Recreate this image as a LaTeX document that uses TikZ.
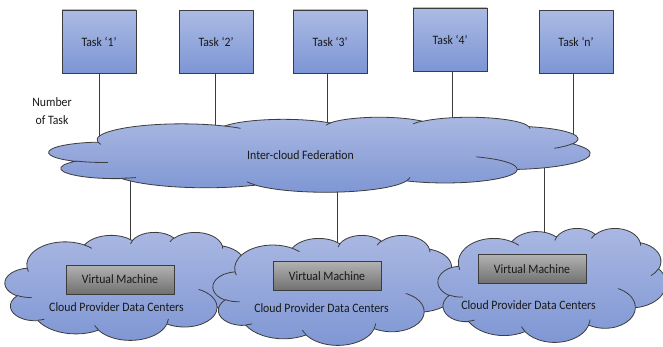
\documentclass[tikz,border=0pt]{standalone}
\usepackage{fontspec}
\setmainfont{Carlito}[FakeStretch=0.92]
\definecolor{boxTop}{RGB}{172,187,228}
\definecolor{boxBot}{RGB}{124,149,212}
\definecolor{cloudTop}{RGB}{170,184,226}
\definecolor{cloudBot}{RGB}{126,150,212}
\definecolor{vmTop}{RGB}{178,178,178}
\definecolor{vmBot}{RGB}{112,112,112}
\definecolor{edge}{RGB}{60,60,60}
\definecolor{txt}{RGB}{25,25,25}
% visual (DrawingML) angle -> parametric arc
\newcommand\prepArc[5]{%
  \pgfmathsetmacro\pA{atan2((#2)*sin(#4),(#3)*cos(#4))}%
  \pgfmathsetmacro\pB{atan2((#2)*sin((#4)+(#5)),(#3)*cos((#4)+(#5)))}%
  \pgfmathsetmacro\pD{mod(\pB-(\pA)+720,360)}%
  \expandafter\xdef\csname #1\endcsname{arc[start angle=\pA,delta angle=\pD,x radius=#2pt,y radius=#3pt]}}
\newcommand\ocpath{(39pt,143.7pt) \ocA \ocB \ocC \ocD \ocE \ocF \ocG \ocH \ocI \ocJ \ocK -- cycle}
\newcommand\ocinner{(46.93pt,261.77pt) \ociA (69.28pt,348.99pt) \ociB (164.78pt,390.90pt) \ociC
  (288.27pt,347.51pt) \ociD (341.29pt,229.54pt) \ociE (417.98pt,153.54pt) \ociF
  (383.24pt,54.26pt) \ociG (290.78pt,39.52pt) \ociH (221.41pt,47.20pt) \ociI
  (140.00pt,51.92pt) \ociJ (41.27pt,157.89pt) \ociK}
\newcommand\officecloud[4]{%
  \begin{scope}[shift={(#1,#2)},xscale=#3/432,yscale=-#4/432]
    \path[cloudbody] \ocpath;
    \path[cloudinner] \ocinner;
  \end{scope}}
\begin{document}
\begin{tikzpicture}[x=1pt,y=-1pt,
  cloudbody/.style={draw=edge,line width=0.8pt,top color=cloudTop,bottom color=cloudBot},
  cloudinner/.style={draw=edge,line width=0.8pt},
  taskbox/.style={draw=edge,line width=0.8pt,top color=boxTop,bottom color=boxBot,
    minimum width=74pt,minimum height=63pt,inner sep=0pt,text=txt,
    font=\fontsize{12.8}{15}\selectfont},
  vmbox/.style={draw=edge,line width=0.8pt,top color=vmTop,bottom color=vmBot,
    minimum width=108pt,minimum height=29pt,inner sep=0pt,text=txt,
    font=\fontsize{12.8}{15}\selectfont},
  lbl/.style={text=txt,inner sep=0pt,font=\fontsize{12.8}{15}\selectfont},
  conn/.style={draw=edge,line width=0.9pt}]
\prepArc{ocA}{67.53}{91.90}{-190.48748}{123.78053}
\prepArc{ocB}{53.33}{72.67}{-144.10238}{89.94523}
\prepArc{ocC}{43.65}{59.45}{-145.80792}{99.72302}
\prepArc{ocD}{48.57}{65.95}{-130.98607}{117.24173}
\prepArc{ocE}{53.33}{72.73}{-78.70888}{109.02692}
\prepArc{ocF}{67.75}{92.20}{-46.26725}{130.269}
\prepArc{ocG}{57.85}{78.67}{0.62502}{114.03333}
\prepArc{ocH}{67.52}{92.15}{22.4516}{115.17255}
\prepArc{ocI}{77.20}{105.43}{66.24263}{75.71102}
\prepArc{ocJ}{43.60}{59.18}{-274.94208}{146.73557}
\prepArc{ocK}{43.45}{59.45}{-246.8285}{152.51885}
\prepArc{ociA}{43.45}{59.45}{86.742}{26.4295}
\prepArc{ociB}{43.60}{59.18}{73.61047}{11.44747}
\prepArc{ociC}{67.52}{92.15}{137.62415}{14.0811}
\prepArc{ociD}{67.52}{92.15}{6.45327}{15.99835}
\prepArc{ociE}{57.85}{78.67}{-70.29235}{70.91737}
\prepArc{ociF}{53.33}{72.73}{30.31803}{27.7515}
\prepArc{ociG}{48.57}{65.95}{-13.74433}{14.8589}
\prepArc{ociH}{48.57}{65.95}{-149.18145}{18.19537}
\prepArc{ociI}{43.65}{59.45}{-163.49427}{17.68635}
\prepArc{ociJ}{67.53}{91.90}{-66.70695}{12.31935}
\prepArc{ociK}{67.53}{91.90}{157.65435}{11.85817}
\useasboundingbox (0,0) rectangle (663,347);
\fill[white] (0,0) rectangle (663,347);
% task boxes
\node[taskbox] (t1) at (99,41.5) {Task ‘1’};
\node[taskbox] (t2) at (216,42) {Task ‘2’};
\node[taskbox] (t3) at (330,41.5) {Task ‘3’};
\node[taskbox] (t4) at (450,39.5) {Task ‘4’};
\node[taskbox] (tn) at (576,42) {Task ‘n’};
% anchor points inside the clouds
\coordinate (f1) at (99,150);
\coordinate (f2) at (215,140);
\coordinate (f3) at (327,140);
\coordinate (f4) at (452,135);
\coordinate (f5) at (573,150);
\coordinate (g1) at (130,178);
\coordinate (g2) at (337,180);
\coordinate (g3) at (544,165);
\coordinate (h1) at (130,252);
\coordinate (h2) at (337,256);
\coordinate (h3) at (544,248);
% connectors
\draw[conn] (t1.south -| f1) -- (f1);
\draw[conn] (t2.south -| f2) -- (f2);
\draw[conn] (t3.south -| f3) -- (f3);
\draw[conn] (t4.south -| f4) -- (f4);
\draw[conn] (tn.south -| f5) -- (f5);
\draw[conn] (g1) -- (h1);
\draw[conn] (g2) -- (h2);
\draw[conn] (g3) -- (h3);
% clouds
\officecloud{49}{117}{541}{75}
\officecloud{5}{232}{245}{108}
\officecloud{213}{235}{244}{110}
\officecloud{438}{228}{228}{114}
% labels and machines
\node[lbl] (fed) at (300.5,155) {Inter-cloud Federation};
\node[lbl,align=center,font=\fontsize{12.8}{18}\selectfont] (num) at (52,111) {Number\\of Task};
\node[vmbox] (vm1) at (120,279.5) {Virtual Machine};
\node[vmbox] (vm2) at (327,276) {Virtual Machine};
\node[vmbox] (vm3) at (532,269) {Virtual Machine};
\node[lbl] (cp1) at (116.5,307.5) {Cloud Provider Data Centers};
\node[lbl] (cp2) at (321.5,308) {Cloud Provider Data Centers};
\node[lbl] (cp3) at (528.5,305) {Cloud Provider Data Centers};
\end{tikzpicture}
\end{document}
